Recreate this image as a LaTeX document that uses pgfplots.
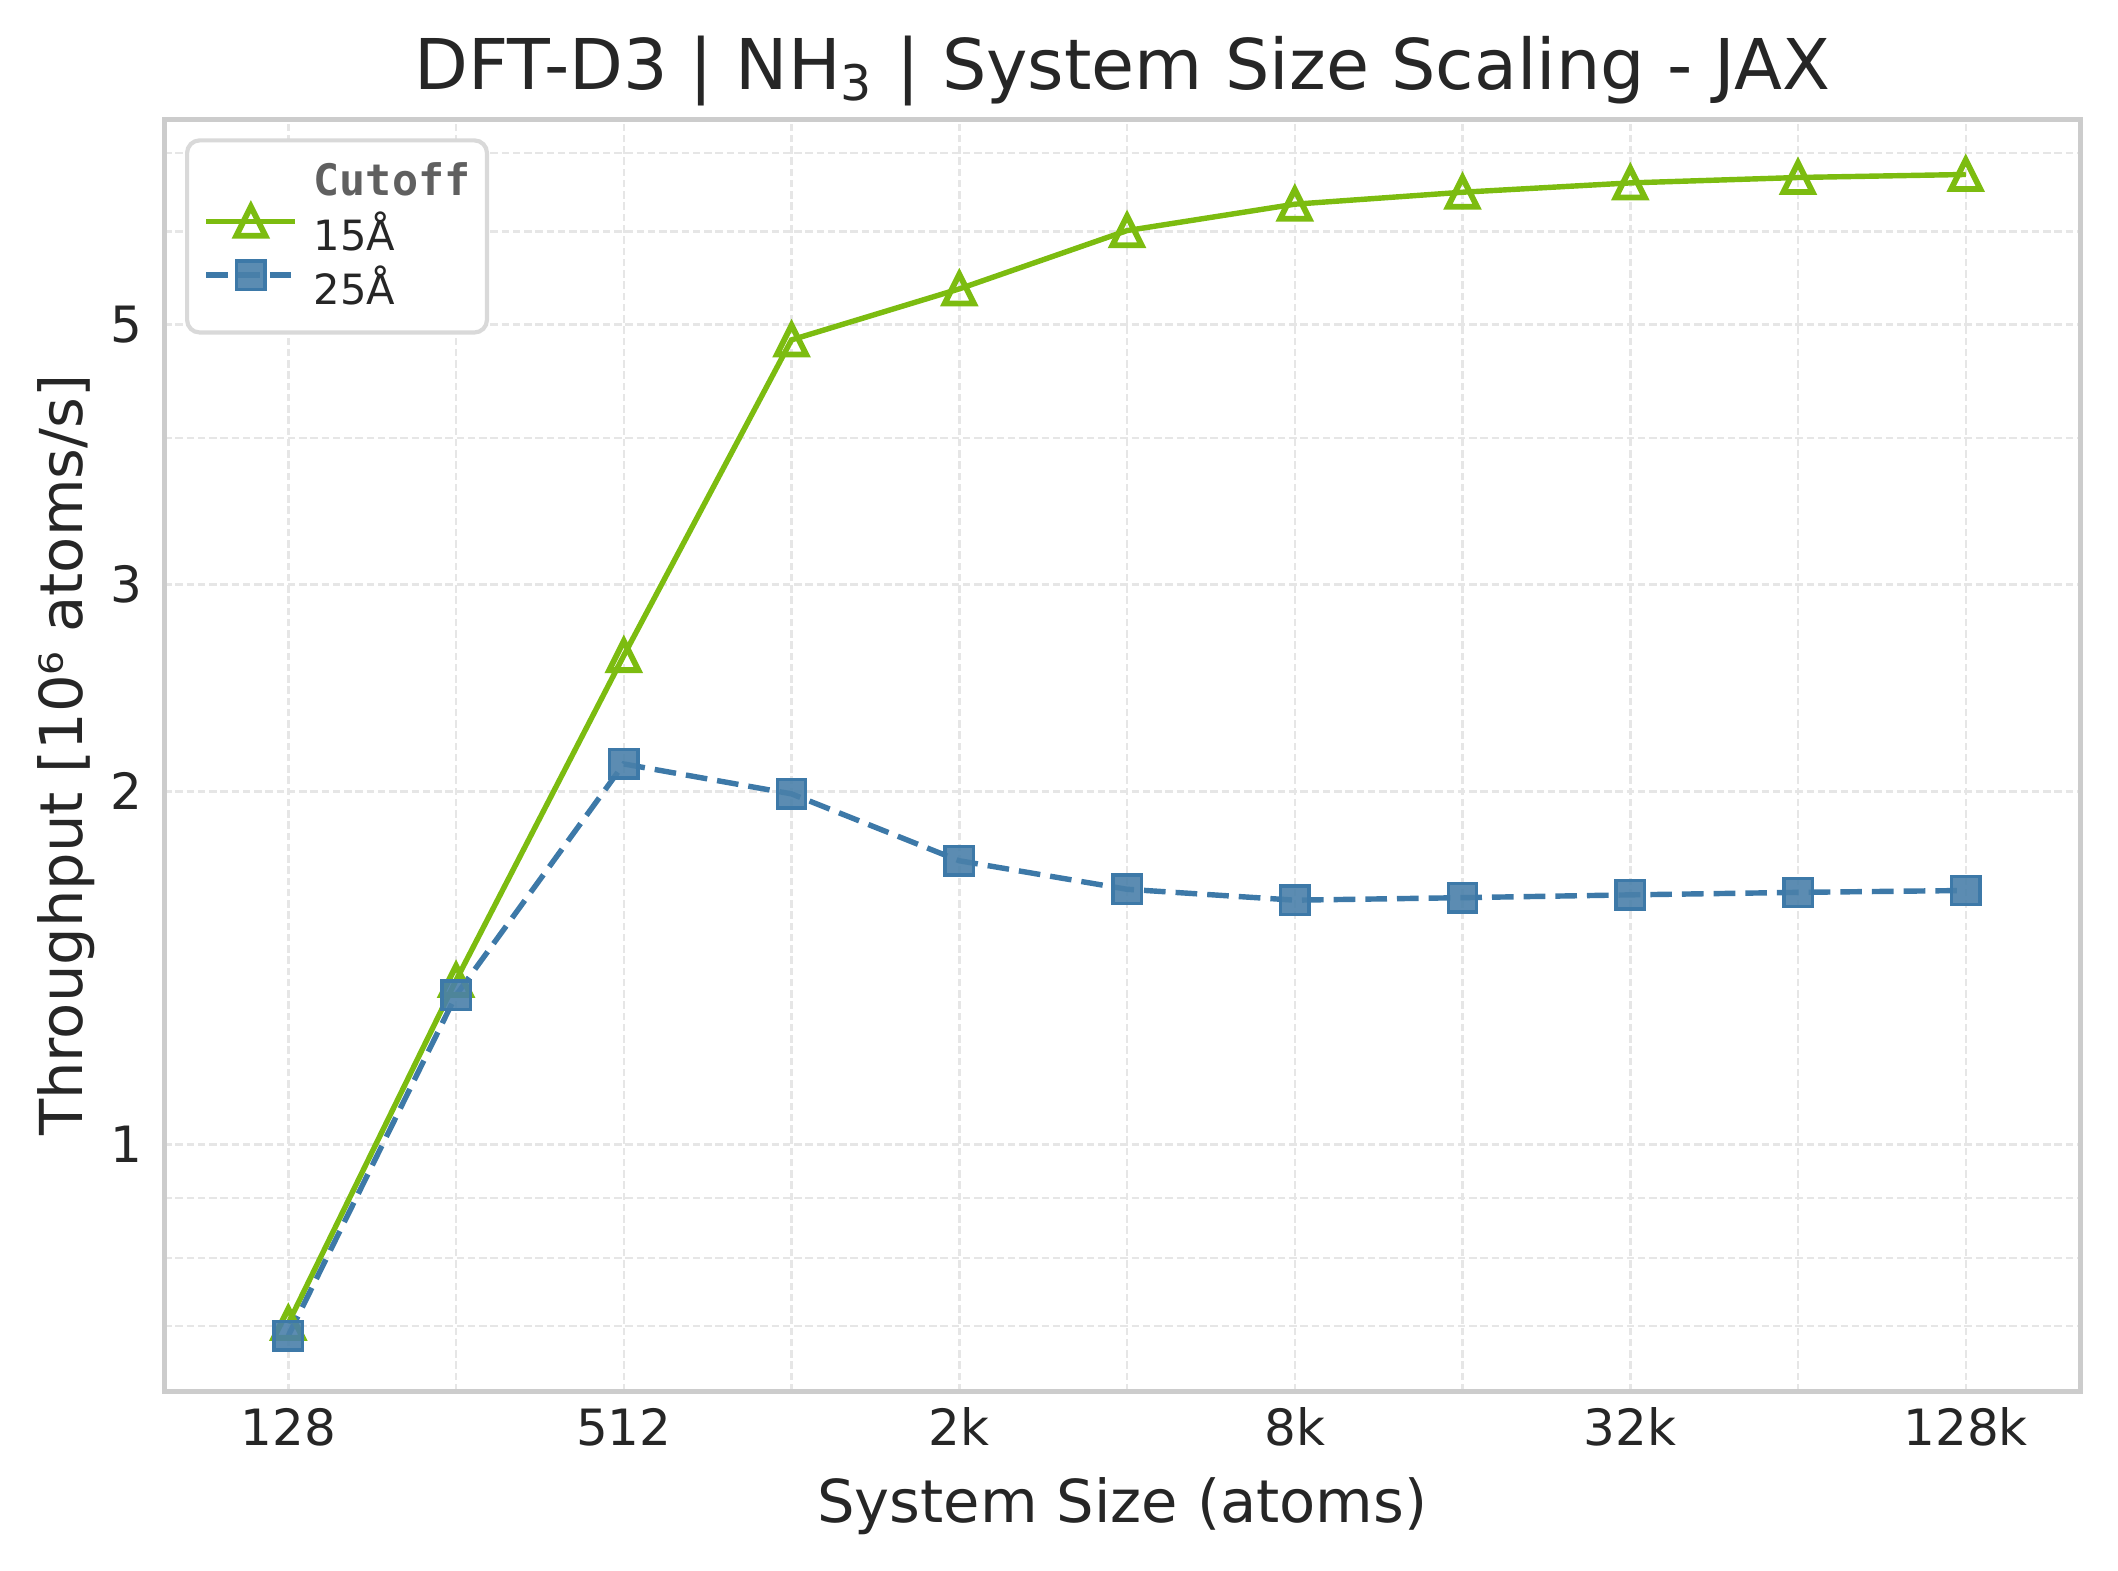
\documentclass[border=0pt]{standalone}
\usepackage{pgfplots}
\pgfplotsset{compat=1.18}
\usepackage{fontspec}
\setmainfont{DejaVu Sans}
\newfontfamily\legmono{DejaVu Sans Mono}
\definecolor{nvgreen}{HTML}{7CBC10}
\definecolor{sblue}{HTML}{3D79A8}
\definecolor{sbluefill}{HTML}{4A80AA}
\definecolor{spine}{HTML}{CCCCCC}
\definecolor{gridc}{HTML}{E6E6E6}
\definecolor{txt}{HTML}{262626}
\definecolor{legt}{HTML}{606060}
\definecolor{legb}{HTML}{D9D9D9}
\pgfdeclareplotmark{mtri}{%
  \pgfpathmoveto{\pgfqpoint{0pt}{\pgfplotmarksize}}%
  \pgfpathlineto{\pgfqpoint{-\pgfplotmarksize}{-\pgfplotmarksize}}%
  \pgfpathlineto{\pgfqpoint{\pgfplotmarksize}{-\pgfplotmarksize}}%
  \pgfpathclose\pgfusepathqstroke}
\begin{document}
\begin{tikzpicture}
\useasboundingbox (0,0) rectangle (508.3pt,376.8pt);
\begin{axis}[
  at={(39.4pt,42.9pt)}, anchor=south west,
  scale only axis, width=459.9pt, height=305.3pt,
  ymode=log, xmin=-0.74, xmax=10.684, ymin=0.616, ymax=7.48,
  xtick={0,2,4,6,8,10}, xticklabels={128,512,2k,8k,32k,128k},
  minor xtick={1,3,5,7,9},
  ytick={1,2,3,5}, yticklabels={1,2,3,5},
  minor ytick={0.7,0.8,0.9,4,6,7},
  major tick length=0pt, minor tick length=0pt,
  grid=both,
  major grid style={gridc, line width=0.6pt, dash pattern=on 1.8pt off 0.9pt},
  minor grid style={gridc, line width=0.6pt, dash pattern=on 1.8pt off 0.9pt},
  axis line style={spine, line width=1.25pt},
  ticklabel style={font=\fontsize{12}{14}\selectfont, text=txt},
  xticklabel style={anchor=base, yshift=-12.9pt},
  yticklabel style={anchor=east, inner sep=0pt, xshift=-5pt},
  /pgf/number format/assume math mode=true,
  title={DFT-D3 | NH\textsubscript{3} | System Size Scaling - JAX},
  title style={at={(axis description cs:0.5,1.0236)}, anchor=base, yshift=-6pt, font=\fontsize{16.8}{19}\selectfont, text=txt},
  xlabel={System Size (atoms)},
  xlabel style={at={(axis description cs:0.5,-0.1028)}, anchor=base, font=\fontsize{14.2}{17}\selectfont, text=txt},
  ylabel={Throughput [10⁶ atoms/s]},
  ylabel style={at={(axis description cs:-0.0428,0.5)}, anchor=base, font=\fontsize{14.2}{17}\selectfont, text=txt},
  legend cell align=left,
  legend style={at={(axis description cs:0,1)}, anchor=north west, xshift=5pt, yshift=-4.6pt,
    draw=legb, line width=1pt, rounded corners=3pt, fill=white,
    font=\fontsize{10}{12}\selectfont, text=txt,
    inner xsep=4.0pt, inner ysep=4.8pt, row sep=0.6pt, column sep=3.8pt,
    nodes={inner sep=0pt, text height=8.5pt, text depth=2pt}},
  legend image code/.code={\draw[mark repeat=2,mark phase=2] plot coordinates {(0pt,3.7pt) (10.65pt,3.7pt) (21.3pt,3.7pt)};},
]
\addlegendimage{empty legend}
\addlegendentry{\fontsize{10.4}{12}\selectfont\legmono\bfseries\color{legt}Cutoff}
\addplot[nvgreen, line width=1.3pt, mark=mtri, mark size=3.5pt, mark options={solid, fill=none, line width=1.4pt}]
  coordinates {(0,0.704) (1,1.38) (2,2.61) (3,4.85) (4,5.36) (5,6.01) (6,6.33) (7,6.48) (8,6.60) (9,6.67) (10,6.71)};
\addlegendentry{15Å}
\addplot[sblue, line width=1.3pt, dash pattern=on 5.2pt off 2.4pt, mark=square*, mark size=3.4pt,
  mark options={solid, draw=sblue, fill=sbluefill, fill opacity=0.9, line width=0.8pt}]
  coordinates {(0,0.687) (1,1.34) (2,2.11) (3,1.99) (4,1.745) (5,1.65) (6,1.615) (7,1.623) (8,1.632) (9,1.64) (10,1.646)};
\addlegendentry{25Å}
\end{axis}
\end{tikzpicture}
\end{document}
